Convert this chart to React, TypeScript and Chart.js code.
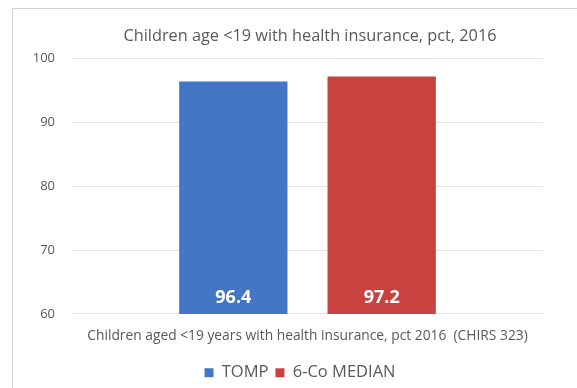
import React, { useEffect, useRef } from "react";
import { Chart, registerables } from "chart.js";

Chart.register(...registerables);

const categories = ["Children aged <19 years with health insurance, pct 2016  (CHIRS 323)"];
const seriesNames = ["TOMP", "6-Co MEDIAN"];
const tompValues = [96.4];
const medianValues = [97.2];
const yTicks = [60, 70, 80, 90, 100];
const titleText = "Children age <19 with health insurance, pct, 2016";

const FONT = "'Open Sans', 'Noto Sans', sans-serif";
const TITLE_SIZE = 16.3;

const customText = {
  id: "customText",
  afterDraw(chart: any) {
    const ctx = chart.ctx;
    const yScale = chart.scales.y;
    const basePx = yScale.getPixelForValue(yTicks[0]);
    ctx.save();
    // bar value labels
    ctx.fillStyle = "#ffffff";
    ctx.font = `bold 18px ${FONT}`;
    ctx.textAlign = "center";
    ctx.textBaseline = "middle";
    chart.data.datasets.forEach((ds: any, i: number) => {
      const meta = chart.getDatasetMeta(i);
      meta.data.forEach((el: any, j: number) => {
        const v = ds.data[j];
        ctx.fillText(Number(v).toFixed(1), el.x, basePx - 16);
      });
    });
    // title, centred on the outer frame
    const tb = chart.titleBlock;
    ctx.fillStyle = "#595959";
    ctx.font = `${TITLE_SIZE}px ${FONT}`;
    ctx.fillText(titleText, 310, tb.top + (TITLE_SIZE * 1.2) / 2);
    ctx.restore();
  },
};

export default function App() {
  const ref = useRef<HTMLCanvasElement | null>(null);
  useEffect(() => {
    document.body.style.margin = "0";
    if (!ref.current) return;
    const chart = new Chart(ref.current, {
      type: "bar",
      data: {
        labels: categories,
        datasets: [
          {
            label: seriesNames[0],
            data: tompValues,
            backgroundColor: "#4377C6",
            categoryPercentage: 0.63,
            barPercentage: 0.73,
          },
          {
            label: seriesNames[1],
            data: medianValues,
            backgroundColor: "#C8423F",
            categoryPercentage: 0.63,
            barPercentage: 0.73,
          },
        ],
      },
      options: {
        animation: false,
        responsive: false,
        maintainAspectRatio: false,
        layout: { padding: { left: 30, right: 7, top: 27, bottom: -3 } },
        plugins: {
          title: {
            display: true,
            text: titleText,
            color: "rgba(0,0,0,0)",
            font: { family: FONT, size: TITLE_SIZE, weight: "normal" },
            padding: { top: 0, bottom: 12 },
          },
          legend: {
            position: "bottom",
            labels: {
              color: "#595959",
              font: { family: FONT, size: 16.5 },
              boxWidth: 9,
              boxHeight: 9,
              padding: 7,
            },
          },
          tooltip: { enabled: false },
        },
        scales: {
          x: {
            grid: { display: false },
            border: { display: false },
            ticks: { color: "#595959", font: { family: FONT, size: 13.8 }, padding: 6 },
            afterFit: (axis: any) => {
              axis.height += 7;
            },
          },
          y: {
            min: 60,
            max: 100,
            afterBuildTicks: (axis: any) => {
              axis.ticks = yTicks.map((v) => ({ value: v }));
            },
            afterFit: (axis: any) => {
              axis.width = 42;
            },
            grid: { color: "#e3e3e3", drawTicks: false },
            border: { display: false },
            ticks: { color: "#595959", font: { family: FONT, size: 13 }, padding: 17 },
          },
          yRight: {
            position: "right",
            min: 60,
            max: 100,
            grid: { display: false, drawTicks: false },
            border: { display: false },
            ticks: { display: false },
            afterFit: (axis: any) => {
              axis.width = 27;
            },
          },
        },
      },
      plugins: [customText],
    });
    return () => chart.destroy();
  }, []);
  return (
    <div style={{ position: "relative", width: 577, height: 388, background: "#fff" }}>
      <div
        style={{
          position: "absolute",
          left: 12,
          top: 8,
          right: -2,
          bottom: -2,
          borderLeft: "1px solid #cfcfcf",
          borderTop: "1px solid #cfcfcf",
        }}
      />
      <canvas ref={ref} width={577} height={388} style={{ position: "absolute", left: 0, top: 0 }} />
    </div>
  );
}
